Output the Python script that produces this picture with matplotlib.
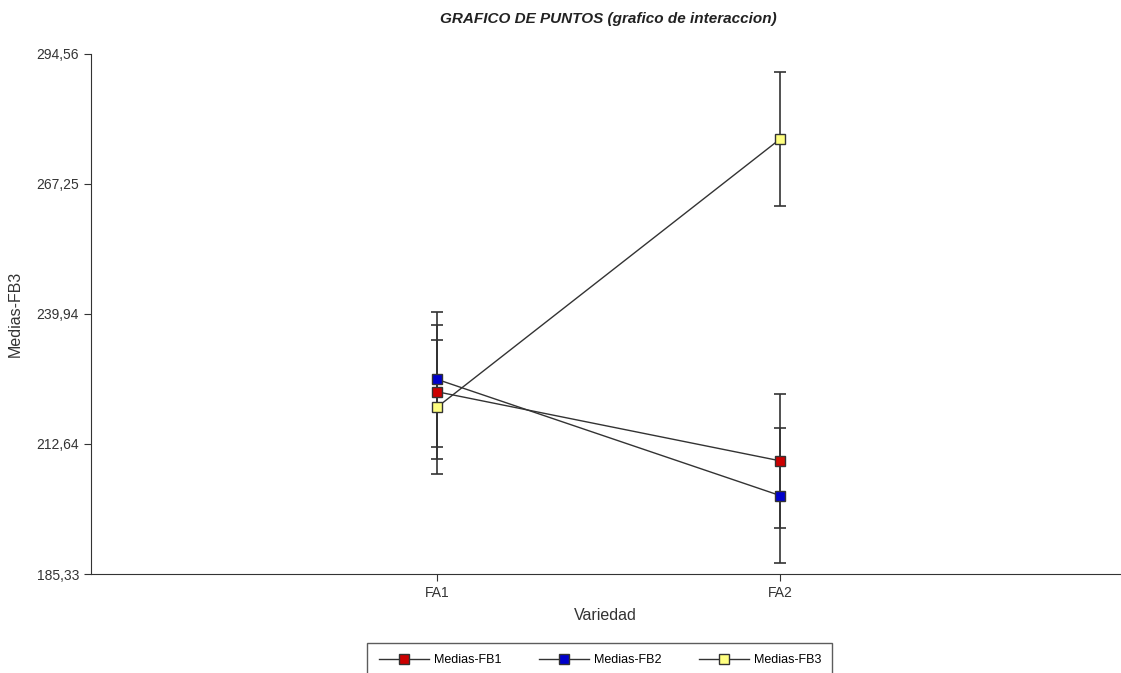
import matplotlib.pyplot as plt

plt.rcParams['font.family'] = ['Liberation Sans', 'DejaVu Sans']

categories = ['FA1', 'FA2']
series = ['Medias-FB1', 'Medias-FB2', 'Medias-FB3']
medias_fb1 = [223.6, 209.1]
medias_fb2 = [226.2, 201.8]
medias_fb3 = [220.4, 276.7]
error = [14.1, 14.1]
colors = ['#cc0000', '#0000cc', '#ffff80']
y_ticks = [185.33, 212.64, 239.94, 267.25, 294.56]
y_labels = ['185,33', '212,64', '239,94', '267,25', '294,56']

fig = plt.figure(figsize=(11.21, 6.73), dpi=100)
ax = fig.add_axes([0.081, 0.147, 0.918, 0.773])

x = [1, 2]
for name, vals, col in zip(series, [medias_fb1, medias_fb2, medias_fb3], colors):
    ax.errorbar(x, vals, yerr=error, fmt='none', ecolor='#333333',
                elinewidth=1.2, capsize=4, capthick=1.2, zorder=2)
    ax.plot(x, vals, color='#333333', lw=1, marker='s', markersize=7,
            markerfacecolor=col, markeredgecolor='#333333', markeredgewidth=1,
            label=name, zorder=3)

ax.set_xlim(-0.01, 2.99)
ax.set_ylim(185.33, 294.56)
ax.set_xticks(x)
ax.set_xticklabels(categories)
ax.set_yticks(y_ticks)
ax.set_yticklabels(y_labels)
ax.tick_params(axis='both', labelsize=10, colors='#333333', length=5)
ax.spines['top'].set_visible(False)
ax.spines['right'].set_visible(False)
ax.spines['left'].set_color('#333333')
ax.spines['bottom'].set_color('#333333')

ax.set_xlabel('Variedad', fontsize=11.5, color='#333333', labelpad=6)
ax.set_ylabel('Medias-FB3', fontsize=11.5, color='#333333', labelpad=10)
fig.text(0.543, 0.972, 'GRAFICO DE PUNTOS (grafico de interaccion)',
         ha='center', va='center', fontsize=11, fontweight='bold',
         fontstyle='italic', color='#222222')

# legend sits at the bottom edge and is partly cut off, like the original
leg = fig.legend(loc='upper center', bbox_to_anchor=(0.535, 0.054), ncol=3,
                 fontsize=9, handlelength=4, frameon=True, fancybox=False,
                 borderpad=0.9, columnspacing=3.0, handletextpad=0.4)
leg.get_frame().set_edgecolor('#333333')
leg.get_frame().set_linewidth(1)

plt.savefig('out.png', dpi=100)
